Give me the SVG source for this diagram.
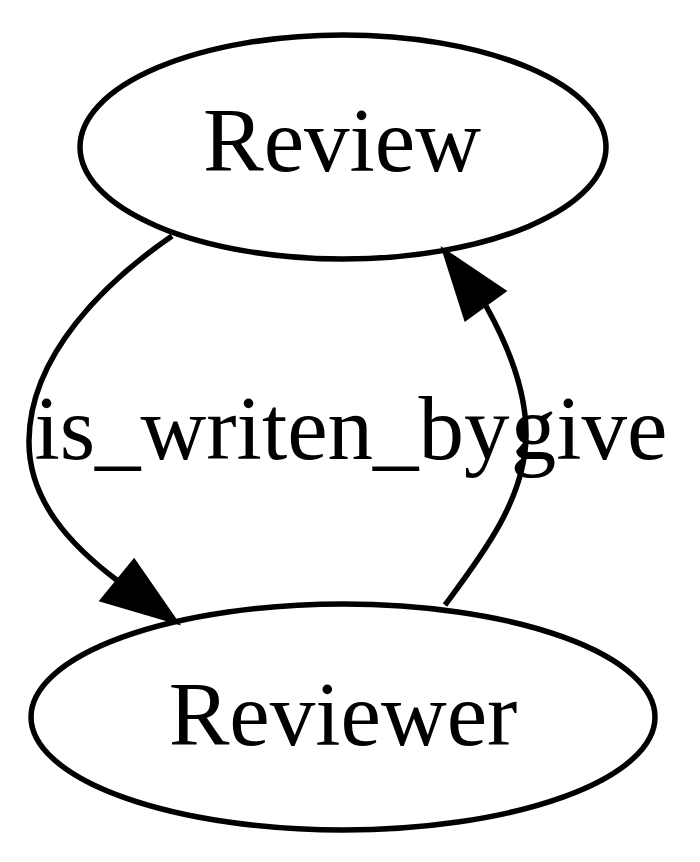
<svg xmlns="http://www.w3.org/2000/svg" width="700" height="862" viewBox="0 0 700 862">
<style>
.node ellipse{fill:none;stroke:#000;stroke-width:5.5}
text{font-family:"Liberation Serif","Times New Roman",serif;font-size:91px;fill:#000;text-anchor:middle}
.edge path{fill:none;stroke:#000;stroke-width:5.5}
.edge polygon{fill:#000;stroke:#000;stroke-width:5}
</style>
<rect width="700" height="862" fill="#fff"/>
<g id="node-review" class="node">
<ellipse cx="343" cy="147" rx="263" ry="112"/>
<text x="342" y="171">Review</text>
</g>
<g id="node-reviewer" class="node">
<ellipse cx="343" cy="717" rx="312" ry="113"/>
<text x="343" y="745">Reviewer</text>
</g>
<g id="edges" class="edge">
<path d="M172,236 C105,282 30,355 29,440 C28,500 70,545 118,581"/>
<polygon points="175,621 103,600 134,562"/>
<path d="M445,605 C480,558 525,500 526,437 C527,390 505,340 486,306"/>
<polygon points="445,252 503,291 466,318"/>
<text x="272" y="459">is_writen_by</text>
<text x="589" y="459">give</text>
</g>
</svg>
